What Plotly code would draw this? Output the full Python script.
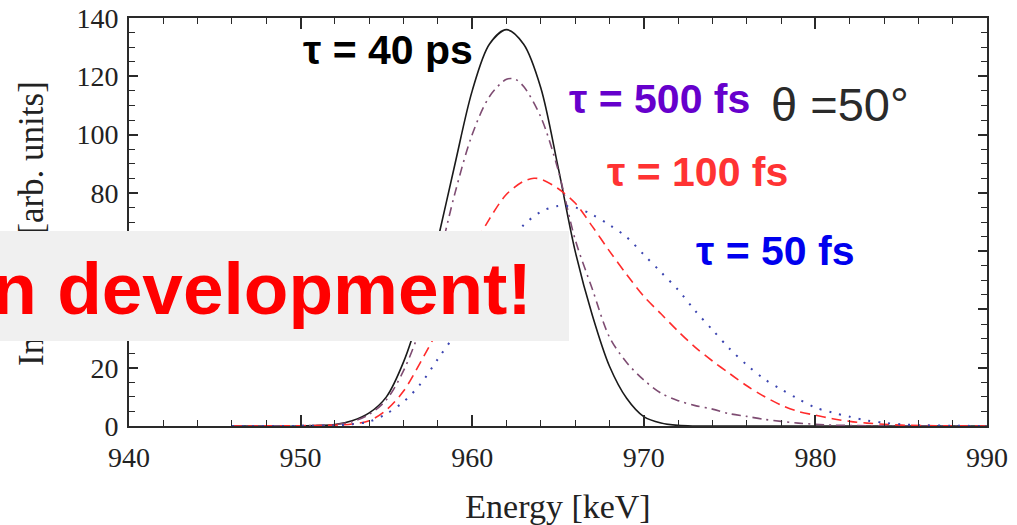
import plotly.graph_objects as go

# ---------------- data ----------------
energy_40ps = [946, 950, 952, 953, 954, 955, 956, 957, 958, 959, 960, 961, 962, 963, 964, 965, 966, 967, 968, 969, 970, 971, 972, 973, 980, 990]
int_40ps    = [0, 0, 0.5, 1.8, 4.5, 10, 22, 40, 64, 90, 115, 131, 136, 131, 116, 89, 60, 38, 20.5, 9.5, 3.2, 1, 0.2, 0, 0, 0]

energy_500fs = [946, 950, 952, 953, 954, 955, 956, 957, 958, 959, 960, 961, 962, 962.5, 963, 964, 965, 966, 967, 968, 969, 970, 971, 972, 973, 974, 975, 976, 977, 978, 979, 980, 981, 983, 985, 990]
int_500fs    = [0, 0.1, 0.5, 1.5, 4, 9, 19, 34, 56, 80, 100, 113, 119, 119, 116.5, 106, 88, 64, 47, 30.5, 21.8, 15.8, 11.3, 8.7, 7, 5.8, 4.2, 3.3, 2.3, 1.6, 1.0, 0.6, 0.3, 0.1, 0, 0]

energy_100fs = [946, 950, 952, 953, 954, 955, 956, 957, 958, 959, 960, 961, 962, 963, 963.6, 964, 965, 966, 967, 968, 969, 970, 971, 972, 973, 974, 975, 976, 977, 978, 979, 980, 981, 982, 983, 984, 985, 987, 990]
int_100fs    = [0, 0.1, 0.3, 0.7, 1.8, 5.5, 12, 22, 33, 46, 60, 71, 79.5, 84, 85, 84.7, 81.5, 76.5, 68.5, 60, 52, 44.5, 38.5, 32.5, 27, 22.3, 18, 13.8, 10.2, 7.2, 5, 3.7, 2.5, 1.6, 1, 0.6, 0.3, 0.1, 0]

energy_50fs = [946, 950, 952, 953, 954, 955, 956, 957, 958, 959, 960, 961, 962, 963, 964, 965, 966, 967, 968, 969, 970, 971, 972, 973, 974, 975, 976, 977, 978, 979, 980, 981, 982, 983, 984, 985, 986, 988, 990]
int_50fs    = [0, 0.05, 0.2, 0.6, 1.5, 4.2, 8.3, 14.5, 23, 31.5, 41.5, 51.5, 62, 69, 73.5, 75.5, 75, 72.5, 69, 64.8, 58.8, 52.8, 46.7, 39.5, 33, 26.5, 21, 16.2, 12.6, 9.3, 6.3, 4.6, 3.2, 1.9, 1.1, 0.6, 0.3, 0.1, 0]

x_ticks = [940, 950, 960, 970, 980, 990]
y_ticks = [0, 20, 40, 60, 80, 100, 120, 140]

# ---------------- layout geometry ----------------
W, H = 1017, 525
L, R, T, B = 129, 987, 18, 426   # plot-area pixel box


def px(x):
    return (x - L) / (R - L)


def py(y):
    return (B - y) / (B - T)


fig = go.Figure()
fig.add_trace(go.Scatter(x=energy_40ps, y=int_40ps, mode="lines", name="40 ps",
                         line=dict(color="#1a1a1a", width=1.6, shape="spline", smoothing=0.9)))
fig.add_trace(go.Scatter(x=energy_500fs, y=int_500fs, mode="lines", name="500 fs",
                         line=dict(color="#7e4c72", width=1.6, dash="9px,5px,2px,5px", shape="spline", smoothing=0.9)))
fig.add_trace(go.Scatter(x=energy_100fs, y=int_100fs, mode="lines", name="100 fs",
                         line=dict(color="#ff2b2b", width=1.6, dash="10px,6px", shape="spline", smoothing=0.9)))
fig.add_trace(go.Scatter(x=energy_50fs, y=int_50fs, mode="lines", name="50 fs",
                         line=dict(color="#3b44b0", width=2, dash="2px,8px", shape="spline", smoothing=0.9)))

serif = "Liberation Serif, Times New Roman, serif"
sans = "Liberation Sans, Arial, sans-serif"
axcol = "#2a2a2a"

fig.update_layout(
    width=W, height=H,
    margin=dict(l=L, r=W - R, t=T, b=H - B, pad=0, autoexpand=False),
    paper_bgcolor="white", plot_bgcolor="white",
    showlegend=False,
    xaxis=dict(range=[940, 990], tickvals=x_ticks, ticks="inside", ticklen=11, tickwidth=1.5,
               tickcolor=axcol, showline=True, linecolor=axcol, linewidth=1.8, mirror="ticks",
               showgrid=False, zeroline=False, automargin=False,
               minor=dict(dtick=2, tick0=940, ticks="inside", ticklen=6, tickwidth=1.3, tickcolor=axcol),
               tickfont=dict(family=serif, size=28, color="#222"),
               ticklabelstandoff=5,
               title=dict(text="Energy [keV]", font=dict(family=serif, size=34, color="#222"), standoff=28)),
    yaxis=dict(range=[0, 140], tickvals=y_ticks, ticks="inside", ticklen=9, tickwidth=1.5,
               tickcolor=axcol, showline=True, linecolor=axcol, linewidth=1.8, mirror="ticks",
               showgrid=False, zeroline=False, automargin=False,
               minor=dict(dtick=5, tick0=0, ticks="inside", ticklen=6, tickwidth=1.3, tickcolor=axcol),
               tickfont=dict(family=serif, size=28, color="#222"),
               ticklabelstandoff=3),
)

annotations = [
    # y-axis title (as annotation so that the banner can cover it)
    dict(text="Intensity [arb. units]", x=px(31), y=py(224), xref="paper", yref="paper",
         showarrow=False, textangle=-90, xanchor="center", yanchor="middle",
         font=dict(family=serif, size=35, color="#222")),
    # curve labels
    dict(text="<b>τ = 40 ps</b>", x=px(388), y=py(50), xref="paper", yref="paper",
         showarrow=False, xanchor="center", yanchor="middle",
         font=dict(family=sans, size=41, color="#000000")),
    dict(text="<b>τ = 500 fs</b>", x=px(659), y=py(99), xref="paper", yref="paper",
         showarrow=False, xanchor="center", yanchor="middle",
         font=dict(family=sans, size=41, color="#6600cc")),
    dict(text="θ =50°", x=px(840), y=py(104), xref="paper", yref="paper",
         showarrow=False, xanchor="center", yanchor="middle",
         font=dict(family=sans, size=47, color="#2a2a2a")),
    dict(text="<b>τ = 100 fs</b>", x=px(697), y=py(172), xref="paper", yref="paper",
         showarrow=False, xanchor="center", yanchor="middle",
         font=dict(family=sans, size=41, color="#ff3333")),
    dict(text="<b>τ = 50 fs</b>", x=px(775), y=py(251), xref="paper", yref="paper",
         showarrow=False, xanchor="center", yanchor="middle",
         font=dict(family=sans, size=41, color="#0000ee")),
    # banner box
    dict(text="\u00a0", x=px(0), y=py(231), xref="paper", yref="paper",
         showarrow=False, xanchor="left", yanchor="top", width=569, height=110,
         bgcolor="#f0f0f0", borderpad=0, borderwidth=0),
    # banner text
    dict(text="<b>In development!</b>", x=px(534), y=py(288), xref="paper", yref="paper",
         showarrow=False, xanchor="right", yanchor="middle",
         font=dict(family=sans, size=73, color="#ff0000")),
]
fig.update_layout(annotations=annotations)

fig.write_html("out.html")
